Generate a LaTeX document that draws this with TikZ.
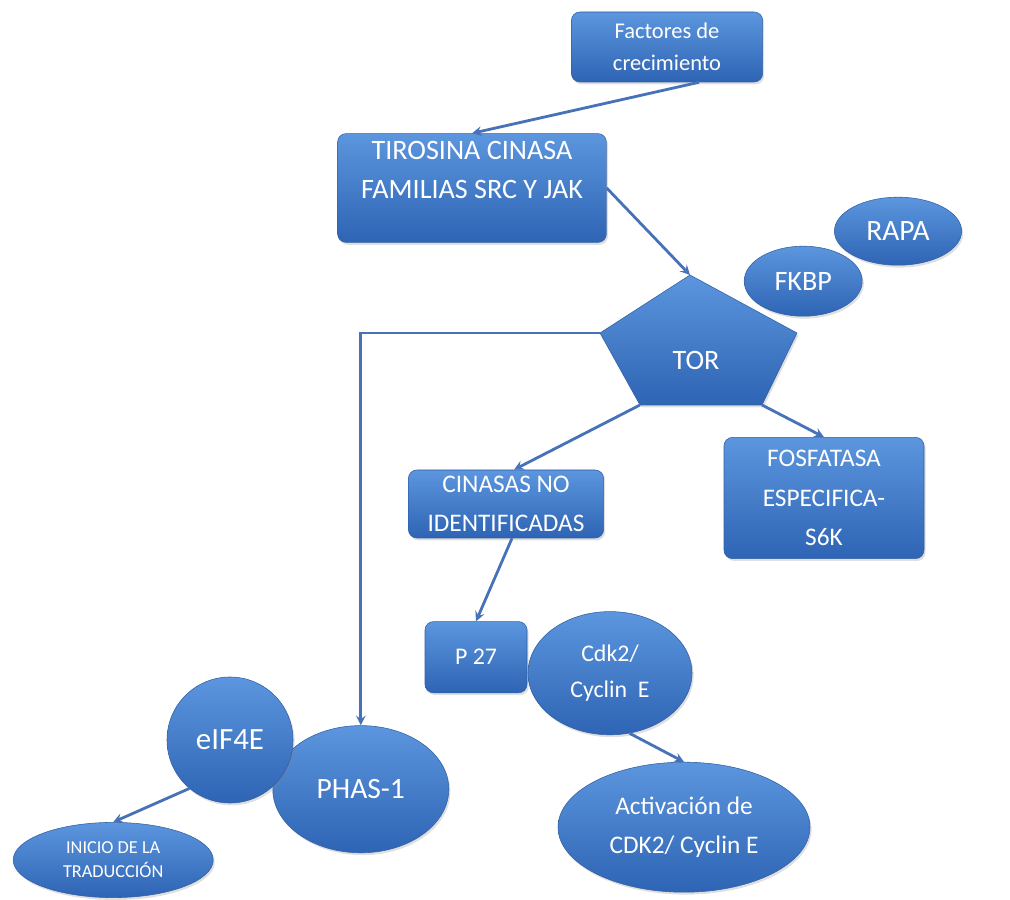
\documentclass[tikz,border=0pt]{standalone}
\usepackage{fontspec}
\setmainfont{Carlito}
\usetikzlibrary{shapes.geometric,shadows}
\definecolor{azulclaro}{RGB}{92,150,222}
\definecolor{azuloscuro}{RGB}{46,100,180}
\definecolor{borde}{RGB}{50,96,166}
\definecolor{flechacolor}{RGB}{72,114,184}
\tikzset{
  sombra/.style={drop shadow={opacity=0.25,shadow xshift=0.04cm,shadow yshift=-0.06cm}},
  caja/.style={rectangle,rounded corners=6pt,draw=borde,top color=azulclaro,bottom color=azuloscuro,sombra,
    text=white,align=center,inner sep=0pt,font=\fontsize{18}{28}\selectfont},
  elipse/.style={ellipse,draw=borde,top color=azulclaro,bottom color=azuloscuro,sombra,
    text=white,align=center,inner sep=0pt,font=\fontsize{18}{28}\selectfont},
  flecha/.style={-stealth,draw=flechacolor,line width=2pt}
}
\begin{document}
\begin{tikzpicture}
			\useasboundingbox(0,0) rectangle (25.25,-22.5);
			% cajas
			\node[caja,minimum width=4.78cm,minimum height=1.75cm,font=\fontsize{16}{23}\selectfont](fact) at(16.675,-1.175){Factores de\\crecimiento};
			\node[caja,minimum width=6.72cm,minimum height=2.72cm,text depth=0.9cm,font=\fontsize{20}{28}\selectfont](tiro) at(11.8,-4.7){TIROSINA CINASA\\FAMILIAS SRC Y JAK};
			\node[caja,minimum width=4.88cm,minimum height=1.7cm](cin) at(12.65,-12.6){CINASAS NO\\IDENTIFICADAS};
			\node[caja,minimum width=5cm,minimum height=3.03cm](fosf) at(20.6,-12.45){FOSFATASA\\ESPECIFICA-\\S6K};
			\node[caja,minimum width=2.55cm,minimum height=1.78cm,font=\fontsize{17}{27}\selectfont](p27) at(11.9,-16.43){P 27};
			% TOR
			\coordinate(torT) at(17.25,-6.875);
			\coordinate(torR) at(19.925,-8.325);
			\coordinate(torBR) at(19.05,-10.125);
			\coordinate(torBL) at(16.0,-10.125);
			\coordinate(torL) at(15.0,-8.325);
			\path[draw=borde,top color=azulclaro,bottom color=azuloscuro,sombra](torT)--(torR)--(torBR)--(torBL)--(torL)--cycle;
			\node[text=white,font=\fontsize{20}{28}\selectfont](tor) at(17.4,-9.0){TOR};
			% elipses
			\node[elipse,minimum width=2.95cm,minimum height=1.75cm,font=\fontsize{20}{28}\selectfont](fkbp) at(20.08,-7.03){FKBP};
			\node[elipse,minimum width=3.18cm,minimum height=1.7cm,font=\fontsize{21}{28}\selectfont](rapa) at(22.45,-5.78){RAPA};
			\node[elipse,minimum width=4.1cm,minimum height=3.08cm,font=\fontsize{17}{25}\selectfont](cdk) at(15.25,-16.83){Cdk2/\\Cyclin\ \ E};
			\node[elipse,minimum width=6.3cm,minimum height=3.25cm](activ) at(17.1,-20.68){Activación de\\CDK2/ Cyclin E};
			\node[elipse,minimum width=4.4cm,minimum height=3.18cm,font=\fontsize{21}{28}\selectfont](phas) at(9.02,-19.73){PHAS-1};
			\node[elipse,minimum width=3.15cm,minimum height=3.15cm,font=\fontsize{22}{28}\selectfont](eif) at(5.75,-18.5){eIF4E};
			\node[elipse,minimum width=5cm,minimum height=1.88cm,font=\fontsize{13}{17}\selectfont](inicio) at(2.83,-21.5){INICIO DE LA\\TRADUCCIÓN};
			% flechas
			\draw[flecha]([xshift=0.8cm]fact.south)--(tiro.north);
			\draw[flecha](tiro.east)--(torT);
			\draw[flecha](torL)-|(phas.north);
			\draw[flecha](torBL)--([xshift=0.2cm]cin.north);
			\draw[flecha](torBR)--(fosf.north);
			\draw[flecha]([xshift=0.15cm]cin.south)--(p27.north);
			\draw[flecha](cdk.-72)--(activ.north);
			\draw[flecha](eif.-130)--(inicio.north);
			\end{tikzpicture}
\end{document}
